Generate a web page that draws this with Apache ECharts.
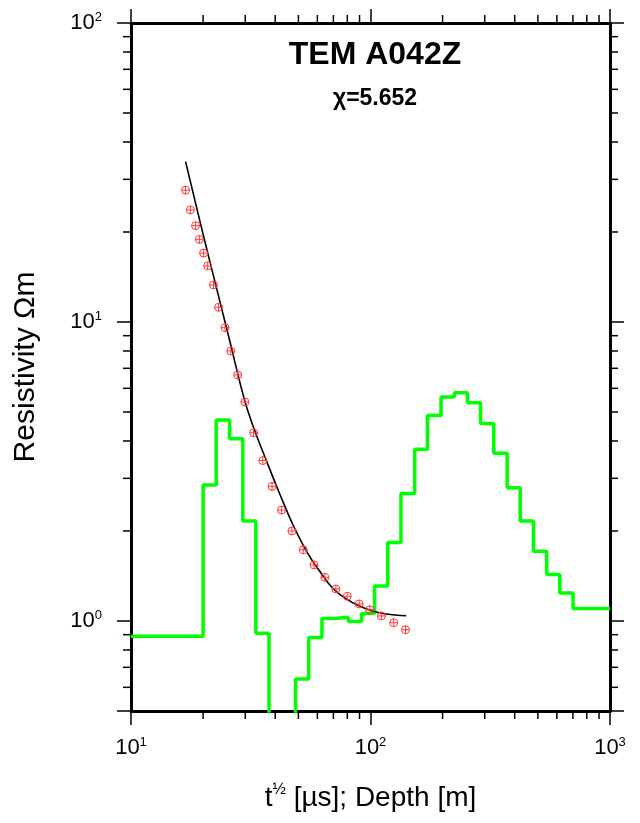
<html>
<head>
<meta charset="utf-8"/>
<title>TEM A042Z</title>
<script src="https://cdn.jsdelivr.net/npm/echarts@6/dist/echarts.min.js"></script>
<style>
  body { margin: 0; padding: 0; background: #fff; }
  #chart { width: 640px; height: 823px; }
</style>
</head>
<body>
<div id="chart"></div>
<script type="text/javascript">
// layer model: boundary depths [m] and layer resistivities [Ohm m]
const layerDepths = [20, 22.7, 25.8, 29.3, 33.2, 37.7, 42.8, 48.6, 55.2, 62.7,
  71.2, 80.8, 91.8, 104, 118, 134, 153, 173, 197, 224,
  254, 288, 327, 372, 422, 479, 544, 617, 701];
const layerRho = [0.89, 2.85, 4.70, 4.07, 2.16, 0.91, 0.35, 0.40, 0.64, 0.88,
  1.02, 1.03, 0.996, 1.06, 1.31, 1.83, 2.67, 3.75, 4.87, 5.61,
  5.80, 5.37, 4.58, 3.64, 2.79, 2.16, 1.71, 1.43, 1.24, 1.10];

// observed apparent resistivity (red circles)
const obsT = [16.9, 17.7, 18.6, 19.3, 20.1, 20.9, 22.1, 23.2, 24.7, 26.1,
  27.9, 29.9, 32.5, 35.5, 38.8, 42.5, 47.0, 52.4, 58.1, 64.5,
  71.7, 80.0, 89.7, 99.3, 111, 125, 140];
const obsRho = [27.6, 23.7, 21.0, 18.9, 17.0, 15.4, 13.3, 11.2, 9.57, 8.0,
  6.65, 5.40, 4.26, 3.44, 2.82, 2.35, 2.0, 1.73, 1.54, 1.40,
  1.28, 1.21, 1.14, 1.09, 1.04, 0.987, 0.935];

// model response (black line)
const fitT = [16.9, 20.0, 22.75, 25.85, 29.85, 32.9, 36.8, 41.8, 47.3, 54.0,
  61.3, 69.4, 79.2, 89.9, 101.9, 116, 141];
const fitRho = [34.4, 19.65, 13.0, 8.64, 5.45, 4.32, 3.43, 2.66, 2.11, 1.714,
  1.469, 1.289, 1.185, 1.122, 1.080, 1.055, 1.041];

// minor tick positions
const xMinorTicks = [20, 30, 40, 50, 60, 70, 80, 90, 200, 300, 400, 500, 600, 700, 800, 900];
const yMinorTicks = [0.6, 0.7, 0.8, 0.9, 2, 3, 4, 5, 6, 7, 8, 9, 20, 30, 40, 50, 60, 70, 80, 90];

const xMin = 10, xMax = 1000, yMin = 0.5, yMax = 100;
const font = 'Liberation Sans';
const minorLen = 8;

let chart = echarts.init(document.getElementById('chart'), null, {renderer: 'canvas'});

let stepData = [];
for (let i = 0; i < layerRho.length; i++) {
  let top = i === 0 ? xMin : layerDepths[i - 1];
  let bottom = i === layerRho.length - 1 ? xMax : layerDepths[i];
  stepData.push([top, layerRho[i]]);
  stepData.push([bottom, layerRho[i]]);
}

function powLabel(v) {
  let e = Math.log10(v);
  if (Math.abs(e - Math.round(e)) > 1e-6) return '';
  return '{b|10}{s|' + Math.round(e) + '}';
}

const labelRich = {
  b: {fontSize: 22, fontFamily: font, color: '#000', lineHeight: 24},
  s: {fontSize: 13, fontFamily: font, color: '#000', verticalAlign: 'top', lineHeight: 14}
};

function axisBase(pos) {
  return {
    type: 'log',
    logBase: 10,
    position: pos,
    axisLine: {show: true, onZero: false, lineStyle: {color: '#000', width: 3}},
    axisTick: {show: true, inside: false, length: 14, lineStyle: {color: '#000', width: 1.5}},
    splitLine: {show: false},
    minorTick: {show: false},
    minorSplitLine: {show: false}
  };
}

function renderXMinor(params, api) {
  let cs = params.coordSys;
  let px = api.coord([api.value(0), 1])[0];
  let bottom = cs.y + cs.height;
  let top = cs.y;
  let st = {stroke: '#000', lineWidth: 1.5};
  return {
    type: 'group',
    children: [
      {type: 'line', shape: {x1: px, y1: bottom, x2: px, y2: bottom + minorLen}, style: st},
      {type: 'line', shape: {x1: px, y1: top, x2: px, y2: top - minorLen}, style: st}
    ]
  };
}

function renderYMinor(params, api) {
  let cs = params.coordSys;
  let py = api.coord([10, api.value(0)])[1];
  let left = cs.x;
  let right = cs.x + cs.width;
  let st = {stroke: '#000', lineWidth: 1.5};
  return {
    type: 'group',
    children: [
      {type: 'line', shape: {x1: left, y1: py, x2: left - minorLen, y2: py}, style: st},
      {type: 'line', shape: {x1: right, y1: py, x2: right + minorLen, y2: py}, style: st}
    ]
  };
}

function renderObs(params, api) {
  let p = api.coord([api.value(0), api.value(1)]);
  let r = 4;
  let st = {stroke: '#ff3a3a', lineWidth: 1, fill: null};
  return {
    type: 'group',
    children: [
      {type: 'circle', shape: {cx: p[0], cy: p[1], r: r}, style: {stroke: '#ff3a3a', lineWidth: 1, fill: 'none'}},
      {type: 'line', shape: {x1: p[0], y1: p[1] - r, x2: p[0], y2: p[1] + r}, style: st},
      {type: 'line', shape: {x1: p[0] - r, y1: p[1], x2: p[0] + r, y2: p[1]}, style: st}
    ]
  };
}

let xBottom = Object.assign(axisBase('bottom'), {
  min: xMin, max: xMax,
  axisLabel: {show: true, margin: 25, formatter: powLabel, rich: labelRich},
  name: '{a|t}{s|½}{a| [µs]; Depth [m]}',
  nameLocation: 'middle',
  nameGap: 71,
  nameTextStyle: {
    rich: {
      a: {fontSize: 28, fontFamily: font, color: '#000', lineHeight: 32},
      s: {fontSize: 16, fontFamily: font, color: '#000', verticalAlign: 'top', lineHeight: 17}
    }
  }
});
let xTop = Object.assign(axisBase('top'), {
  min: xMin, max: xMax,
  axisLabel: {show: false}
});
let yLeft = Object.assign(axisBase('left'), {
  min: yMin, max: yMax,
  axisLabel: {show: true, margin: 29, formatter: powLabel, rich: labelRich},
  name: 'Resistivity Ωm',
  nameLocation: 'middle',
  nameGap: 90,
  nameTextStyle: {fontSize: 30, fontFamily: font, color: '#000'}
});
let yRight = Object.assign(axisBase('right'), {
  min: yMin, max: yMax,
  axisLabel: {show: false}
});

chart.setOption({
  animation: false,
  backgroundColor: '#fff',
  title: {
    text: 'TEM A042Z',
    subtext: 'χ=5.652',
    left: 370,
    top: 34,
    textAlign: 'center',
    itemGap: 16,
    textStyle: {fontSize: 32, fontWeight: 'bold', fontFamily: font, color: '#000'},
    subtextStyle: {fontSize: 23, fontWeight: 'bold', fontFamily: font, color: '#000'}
  },
  grid: {left: 131, right: 30, top: 23, bottom: 112, containLabel: false, outerBoundsMode: 'none'},
  xAxis: [xBottom, xTop],
  yAxis: [yLeft, yRight],
  series: [
    {
      name: 'model',
      type: 'line',
      data: stepData,
      showSymbol: false,
      lineStyle: {color: '#00ff00', width: 3.5},
      clip: true,
      z: 2
    },
    {
      name: 'response',
      type: 'line',
      data: fitT.map((t, i) => [t, fitRho[i]]),
      smooth: 0.4,
      showSymbol: false,
      lineStyle: {color: '#000', width: 1.6},
      z: 3
    },
    {
      name: 'observed',
      type: 'custom',
      renderItem: renderObs,
      data: obsT.map((t, i) => [t, obsRho[i]]),
      z: 4
    },
    {
      name: 'xMinor',
      type: 'custom',
      renderItem: renderXMinor,
      data: xMinorTicks.map((v) => [v, 1]),
      clip: false,
      silent: true,
      z: 5
    },
    {
      name: 'yMinor',
      type: 'custom',
      renderItem: renderYMinor,
      data: yMinorTicks.map((v) => [v, 10]),
      encode: {x: 1, y: 0},
      clip: false,
      silent: true,
      z: 5
    }
  ]
});
</script>
</body>
</html>
